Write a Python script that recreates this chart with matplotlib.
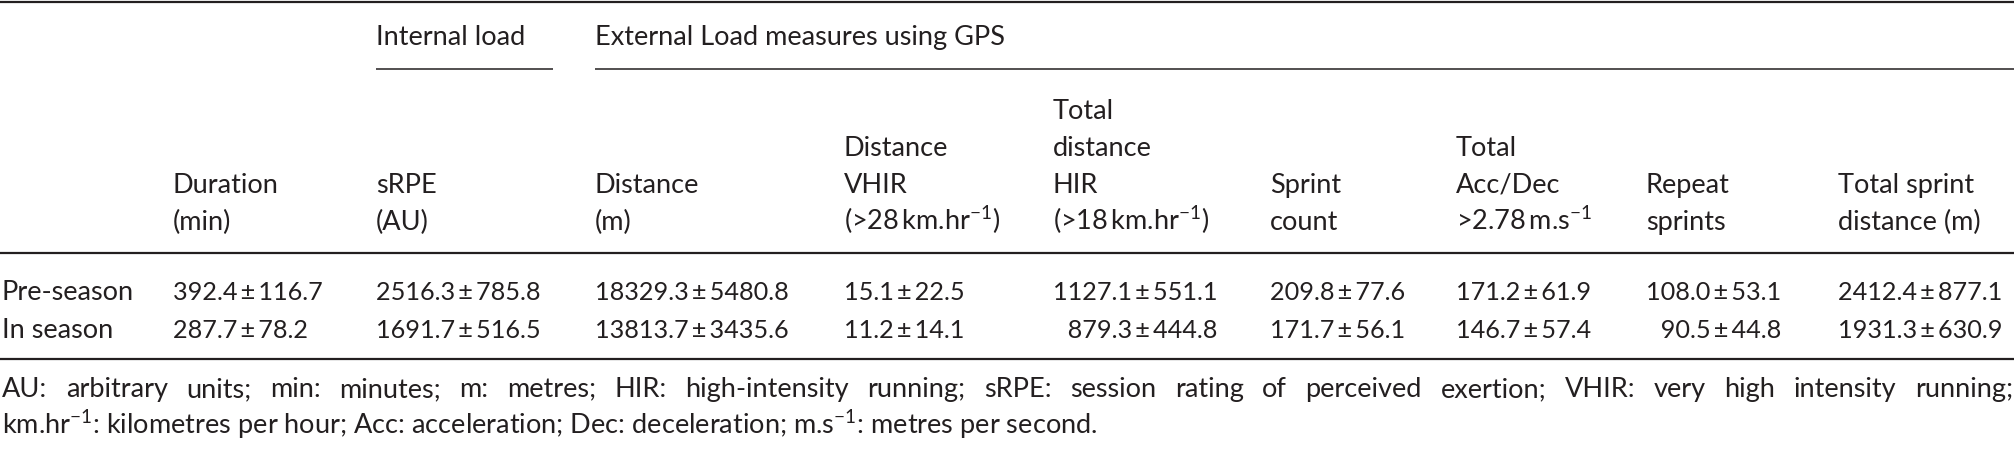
import matplotlib
matplotlib.use("Agg")
import matplotlib.pyplot as plt

# table content
row_labels = ["Pre-season", "In season"]
col_headers = [
    ["Duration", "(min)"],
    ["sRPE", "(AU)"],
    ["Distance", "(m)"],
    ["Distance", "VHIR", "(>28\u2009km.hr$^{-1}$)"],
    ["Total", "distance", "HIR", "(>18\u2009km.hr$^{-1}$)"],
    ["Sprint", "count"],
    ["Total", "Acc/Dec", ">2.78\u2009m.s$^{-1}$"],
    ["Repeat", "sprints"],
    ["Total sprint", "distance (m)"],
]
pre_mean = [392.4, 2516.3, 18329.3, 15.1, 1127.1, 209.8, 171.2, 108.0, 2412.4]
pre_sd = [116.7, 785.8, 5480.8, 22.5, 551.1, 77.6, 61.9, 53.1, 877.1]
in_mean = [287.7, 1691.7, 13813.7, 11.2, 879.3, 171.7, 146.7, 90.5, 1931.3]
in_sd = [78.2, 516.5, 3435.6, 14.1, 444.8, 56.1, 57.4, 44.8, 630.9]
group_labels = ["Internal load", "External Load measures using GPS"]
footnote = [
    "AU: arbitrary units; min: minutes; m: metres; HIR: high-intensity running; "
    "sRPE: session rating of perceived exertion; VHIR: very high intensity running;",
    "km.hr$^{-1}$: kilometres per hour; Acc: acceleration; Dec: deceleration; "
    "m.s$^{-1}$: metres per second.",
]

plt.rcParams["font.family"] = ["Lato", "DejaVu Sans"]
plt.rcParams["mathtext.fontset"] = "custom"
plt.rcParams["mathtext.rm"] = "Lato"
plt.rcParams["mathtext.it"] = "Lato:italic"
plt.rcParams["mathtext.bf"] = "Lato:bold"

ink = "#231f20"
fs = 19.5
fs_num = 18.2

fig = plt.figure(figsize=(20.15, 4.57), dpi=100)
ax = fig.add_axes([0, 0, 1, 1])
ax.set_xlim(0, 2015)
ax.set_ylim(457, 0)
ax.axis("off")
renderer = fig.canvas.get_renderer()

col_x = [173, 376, 595, 844, 1053, 1270, 1456, 1646, 1838]
line_step = 37
head_base = 230  # baseline of the last header line

# rules
ax.plot([0, 2015], [2, 2], color=ink, lw=1.6, solid_capstyle="butt")
ax.plot([0, 2015], [253, 253], color=ink, lw=1.6, solid_capstyle="butt")
ax.plot([0, 2015], [359, 359], color=ink, lw=1.6, solid_capstyle="butt")
ax.plot([376, 553], [69, 69], color=ink, lw=1.1, solid_capstyle="butt")
ax.plot([595, 2015], [69, 69], color=ink, lw=1.1, solid_capstyle="butt")

# spanning group headers
ax.text(376, 45, group_labels[0], fontsize=fs, color=ink, va="baseline")
ax.text(595, 45, group_labels[1], fontsize=fs, color=ink, va="baseline")

# column headers, bottom aligned
for x, lines in zip(col_x, col_headers):
    n = len(lines)
    for i, t in enumerate(lines):
        y = head_base - (n - 1 - i) * line_step
        ax.text(x, y, t, fontsize=fs, color=ink, va="baseline")

# data rows
row_y = [300, 338]
for j, (lab, means, sds) in enumerate(zip(row_labels, [pre_mean, in_mean], [pre_sd, in_sd])):
    ax.text(2, row_y[j], lab, fontsize=fs, color=ink, va="baseline")
    for k, (m, s) in enumerate(zip(means, sds)):
        txt = f"{m:.1f}"
        ref = f"{pre_mean[k]:.1f}"
        pad = "\u2007" * max(0, len(ref) - len(txt))
        ax.text(col_x[k], row_y[j], f"{pad}{txt}\u2009±\u2009{s:.1f}", fontsize=fs_num,
                color=ink, va="baseline")

# footnote: first line justified to the full width
words = footnote[0].split(" ")
widths = []
for w in words:
    t = ax.text(0, 0, w, fontsize=fs)
    widths.append(t.get_window_extent(renderer).width)
    t.remove()
gap = (2013 - 2 - sum(widths)) / (len(words) - 1)
x = 2
for w, wd in zip(words, widths):
    ax.text(x, 397, w, fontsize=fs, color=ink, va="baseline")
    x += wd + gap
ax.text(2, 397 + line_step, footnote[1], fontsize=fs, color=ink, va="baseline")

fig.savefig("out.png", dpi=100)
